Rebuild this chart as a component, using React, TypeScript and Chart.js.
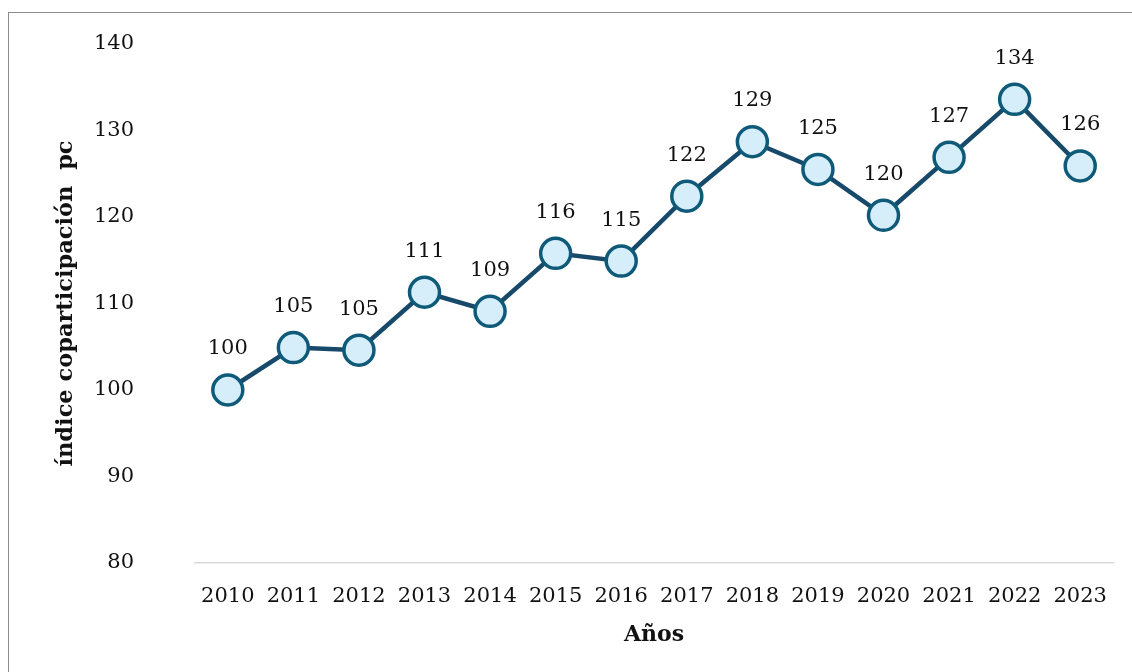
import React, { useEffect, useRef } from "react";
import { Chart, registerables } from "chart.js";

Chart.register(...registerables);

const years = ["2010", "2011", "2012", "2013", "2014", "2015", "2016", "2017", "2018", "2019", "2020", "2021", "2022", "2023"];
const indexValues = [100.0, 104.9, 104.6, 111.3, 109.1, 115.8, 114.9, 122.4, 128.7, 125.5, 120.2, 126.9, 133.6, 125.9];
const pointLabels = ["100", "105", "105", "111", "109", "116", "115", "122", "129", "125", "120", "127", "134", "126"];
const yTitle = "índice coparticipación  pc";
const xTitle = "Años";

const FONT = "'DejaVu Serif', 'Liberation Serif', serif";

const labelPlugin = {
  id: "pointLabels",
  afterDatasetsDraw(chart: any) {
    const ctx = chart.ctx;
    const meta = chart.getDatasetMeta(0);
    ctx.save();
    ctx.font = `21px ${FONT}`;
    ctx.fillStyle = "#111111";
    ctx.textAlign = "center";
    ctx.textBaseline = "middle";
    meta.data.forEach((el: any, i: number) => {
      ctx.fillText(pointLabels[i], el.x, el.y - 41);
    });
    ctx.restore();
  },
};

export default function App() {
  const ref = useRef<HTMLCanvasElement>(null);
  useEffect(() => {
    if (!ref.current) return;
    const chart = new Chart(ref.current, {
      type: "line",
      data: {
        labels: years,
        datasets: [
          {
            data: indexValues,
            borderColor: "#17496A",
            borderWidth: 4.5,
            pointRadius: 15,
            pointHoverRadius: 15,
            pointBackgroundColor: "#D5EEF9",
            pointBorderColor: "#0E5A78",
            pointBorderWidth: 3.5,
            tension: 0,
          },
        ],
      },
      options: {
        animation: false,
        responsive: false,
        maintainAspectRatio: false,
        layout: { autoPadding: false, padding: { left: 0, right: 18, top: 31, bottom: 0 } },
        plugins: {
          legend: { display: false },
          tooltip: { enabled: false },
        },
        scales: {
          x: {
            offset: true,
            grid: {
              display: true,
              drawOnChartArea: false,
              drawTicks: true,
              tickLength: 21,
              tickColor: "rgba(0,0,0,0)",
            },
            border: { display: true, color: "#D9D9D9", width: 1.5 },
            ticks: { padding: 0, color: "#111111", font: { family: FONT, size: 21 } },
            title: {
              display: true,
              text: xTitle,
              color: "#111111",
              font: { family: FONT, size: 22, weight: "bold" },
              padding: { top: 0, bottom: 23 },
            },
            afterFit: (s: any) => {
              s.height = 108;
            },
          },
          y: {
            min: 80,
            max: 140,
            grid: {
              display: true,
              drawOnChartArea: false,
              drawTicks: true,
              tickLength: 61,
              tickColor: "rgba(0,0,0,0)",
            },
            border: { display: false },
            ticks: { stepSize: 10, padding: 0, color: "#111111", font: { family: FONT, size: 21 } },
            title: {
              display: true,
              text: yTitle,
              color: "#111111",
              font: { family: FONT, size: 22.5, weight: "bold" },
              padding: { top: 44, bottom: 0 },
            },
            afterFit: (s: any) => {
              s.width = 186;
            },
          },
        },
      },
      plugins: [labelPlugin],
    });
    return () => chart.destroy();
  }, []);

  return (
    <div
      style={{
        position: "fixed",
        left: 8,
        top: 12,
        width: 1124,
        height: 660,
        borderLeft: "1.5px solid #8C8C8C",
        borderTop: "1.5px solid #8C8C8C",
        background: "#fff",
      }}
    >
      <canvas ref={ref} width={1122} height={658} style={{ display: "block", position: "absolute", left: 0, top: 0 }} />
    </div>
  );
}
